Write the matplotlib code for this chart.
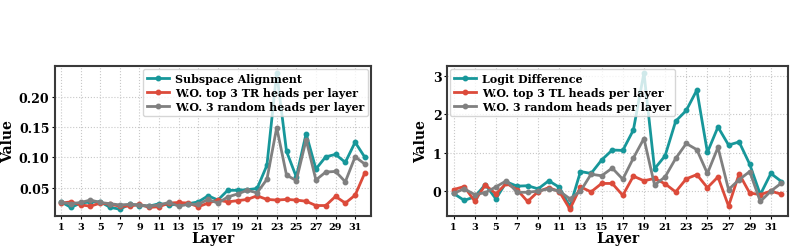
import matplotlib
matplotlib.use("Agg")
import matplotlib.pyplot as plt
import numpy as np

layers = list(range(1, 33))

subspace_alignment = [0.027, 0.018, 0.025, 0.027, 0.027, 0.018, 0.015, 0.023, 0.021, 0.020,
                      0.024, 0.022, 0.023, 0.024, 0.027, 0.037, 0.030, 0.046, 0.046, 0.047,
                      0.049, 0.087, 0.239, 0.110, 0.068, 0.139, 0.081, 0.101, 0.105, 0.092,
                      0.125, 0.100]
wo_top3_tr = [0.025, 0.027, 0.022, 0.020, 0.025, 0.023, 0.020, 0.020, 0.023, 0.018,
              0.019, 0.025, 0.026, 0.025, 0.019, 0.025, 0.030, 0.027, 0.029, 0.031,
              0.037, 0.031, 0.030, 0.031, 0.030, 0.028, 0.021, 0.021, 0.036, 0.025,
              0.038, 0.075]
wo_random_left = [0.026, 0.024, 0.026, 0.030, 0.026, 0.024, 0.022, 0.023, 0.022, 0.020,
                  0.022, 0.026, 0.020, 0.023, 0.023, 0.031, 0.025, 0.035, 0.040, 0.046,
                  0.042, 0.064, 0.149, 0.071, 0.062, 0.129, 0.063, 0.076, 0.077, 0.060,
                  0.101, 0.089]

logit_difference = [-0.06, -0.24, -0.15, 0.17, -0.20, 0.24, 0.13, 0.14, 0.06, 0.27,
                    0.10, -0.41, 0.51, 0.46, 0.81, 1.07, 1.06, 1.59, 3.08, 0.58,
                    0.92, 1.82, 2.10, 2.63, 1.01, 1.67, 1.20, 1.28, 0.70, -0.09,
                    0.46, 0.25]
wo_top3_tl = [0.04, 0.12, -0.26, 0.16, -0.07, 0.20, 0.04, -0.27, -0.01, 0.09,
              -0.01, -0.47, 0.11, -0.02, 0.20, 0.20, -0.11, 0.39, 0.27, 0.33,
              0.19, -0.02, 0.32, 0.43, 0.09, 0.37, -0.39, 0.45, -0.05, -0.09,
              0.00, -0.08]
wo_random_right = [-0.06, 0.06, -0.09, -0.04, 0.11, 0.27, -0.03, -0.03, 0.00, 0.06,
                   0.00, -0.20, 0.00, 0.44, 0.40, 0.60, 0.31, 0.86, 1.37, 0.16,
                   0.37, 0.85, 1.24, 1.08, 0.46, 1.14, 0.04, 0.30, 0.51, -0.27,
                   0.00, 0.21]

left_labels = ["Subspace Alignment", "W.O. top 3 TR heads per layer", "W.O. 3 random heads per layer"]
right_labels = ["Logit Difference", "W.O. top 3 TL heads per layer", "W.O. 3 random heads per layer"]
xtick_vals = list(range(1, 33, 2))

plt.rcParams['font.family'] = ['DejaVu Serif']
plt.rcParams['font.weight'] = 'bold'

TEAL = '#17979a'
RED = '#dc4b3b'
GRAY = '#808080'

fig = plt.figure(figsize=(7.96, 2.53), dpi=100)
ax1 = fig.add_axes([55/796, 1-217/253, 316/796, 150/253])
ax2 = fig.add_axes([447/796, 1-217/253, 341/796, 150/253])

def style(ax, series, labels, loc):
    for ys, c, lab in zip(series, [TEAL, RED, GRAY], labels):
        ax.plot(layers, ys, color=c, lw=2.0, marker='o', ms=3.2, label=lab)
    ax.set_xticks(xtick_vals)
    ax.margins(x=0.02)
    ax.grid(True, linestyle=':', color='#c8c8c8', lw=0.8)
    ax.set_axisbelow(True)
    for sp in ax.spines.values():
        sp.set_color('#3a3a3a')
        sp.set_linewidth(1.5)
    ax.tick_params(axis='x', labelsize=7, length=2.5, pad=1.5)
    ax.tick_params(axis='y', labelsize=9, length=2.5, pad=1.5)
    for t in ax.get_xticklabels() + ax.get_yticklabels():
        t.set_fontweight('bold')
    ax.set_xlabel('Layer', fontsize=10, fontweight='bold', labelpad=0)
    ax.set_ylabel('Value', fontsize=10, fontweight='bold', labelpad=3)
    leg = ax.legend(loc=loc, prop={'weight': 'bold', 'size': 7.9}, handlelength=2.0,
                    borderpad=0.35, labelspacing=0.3, handletextpad=0.6,
                    borderaxespad=0.25, framealpha=0.8)
    leg.get_frame().set_edgecolor('#cccccc')

style(ax1, [subspace_alignment, wo_top3_tr, wo_random_left], left_labels, 'upper right')
ax1.set_yticks([0.05, 0.10, 0.15, 0.20])
style(ax2, [logit_difference, wo_top3_tl, wo_random_right], right_labels, 'upper left')
ax2.set_yticks([0, 1, 2, 3])

fig.savefig('out.png', dpi=100)
